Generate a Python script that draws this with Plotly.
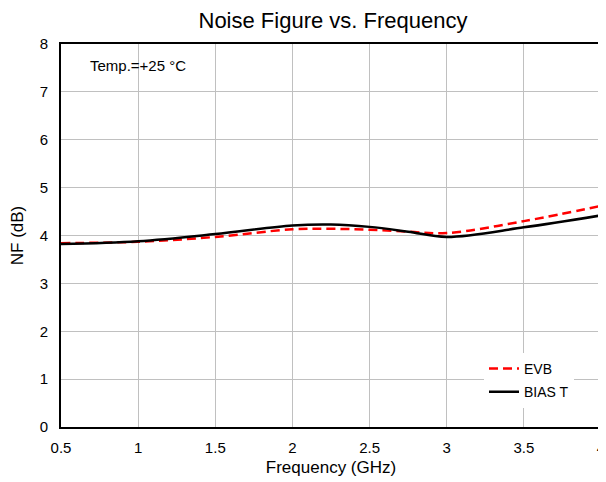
import plotly.graph_objects as go

freq = [0.5, 1.0, 1.5, 2.0, 2.25, 2.5, 2.75, 3.0, 3.5, 4.0]
nf_evb = [3.84, 3.87, 3.97, 4.13, 4.14, 4.12, 4.08, 4.05, 4.30, 4.62]
nf_bias = [3.82, 3.88, 4.03, 4.21, 4.23, 4.18, 4.08, 3.97, 4.17, 4.42]

fig = go.Figure()
fig.add_trace(go.Scatter(x=freq, y=nf_evb, name="EVB", mode="lines", legendgroup="a",
                         line=dict(color="#ff0000", width=2.5, dash="9px,5px", shape="spline")))
fig.add_trace(go.Scatter(x=freq, y=nf_bias, name="BIAS T", mode="lines", legendgroup="b",
                         line=dict(color="#000000", width=2.5, shape="spline")))

# page body adds an 8px margin, so the figure is sized to fit the 606x482 window
fig.update_layout(
    width=598, height=474,
    margin=dict(l=53, r=5, t=36, b=55, autoexpand=False),
    paper_bgcolor="white", plot_bgcolor="white",
    font=dict(family="Liberation Sans, Arial, sans-serif", color="black"),
    title=dict(text="Noise Figure vs. Frequency", x=0.5435, xanchor="center", y=0.99, yanchor="top",
               font=dict(size=22)),
    xaxis=dict(range=[0.5, 4], dtick=0.5, tick0=0.5, showgrid=True, gridcolor="#c0c0c0", gridwidth=1,
               showline=True, linecolor="black", linewidth=2, mirror=True, ticks="",
               tickfont=dict(size=15), zeroline=False, automargin=False, ticklabeloverflow="allow",
               ticklabelstandoff=6,
               title=dict(text="Frequency (GHz)", font=dict(size=17), standoff=6)),
    yaxis=dict(range=[0, 8], dtick=1, showgrid=True, gridcolor="#c0c0c0", gridwidth=1,
               showline=True, linecolor="black", linewidth=2, mirror=True, ticks="",
               tickfont=dict(size=15), zeroline=False, automargin=False, ticklabelstandoff=8,
               title=dict(text="NF (dB)", font=dict(size=17), standoff=12)),
    legend=dict(x=0.95, y=0.05, xanchor="right", yanchor="bottom", bgcolor="white",
                font=dict(size=14), borderwidth=0, tracegroupgap=2, traceorder="grouped"),
    showlegend=True,
)
fig.add_annotation(text="Temp.=+25 °C", xref="paper", yref="paper", x=0.05, y=0.945,
                   xanchor="left", yanchor="middle", showarrow=False, font=dict(size=15))

fig.write_html("out.html")
